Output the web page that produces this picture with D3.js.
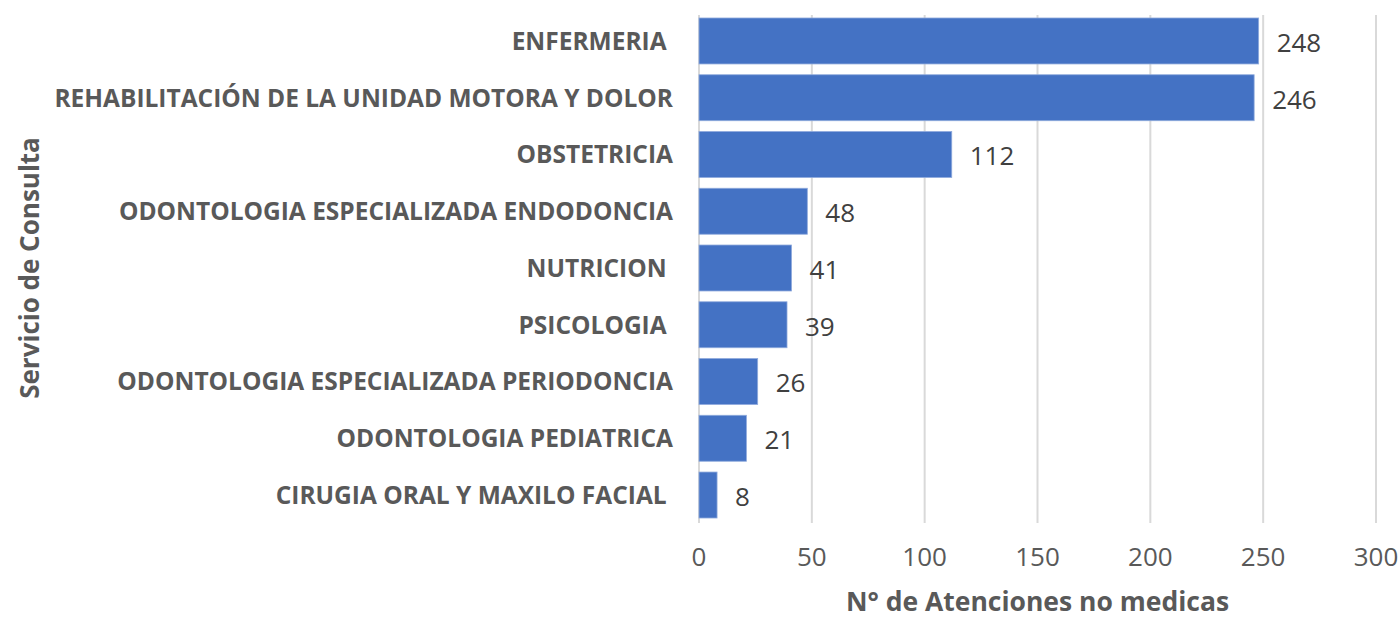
<!DOCTYPE html>
<html>
<head>
<meta charset="utf-8">
<script src="https://cdn.jsdelivr.net/npm/d3@7"></script>
<style>
  body { margin: 0; background: #fff; }
  svg text { font-family: "Open Sans", Lato, sans-serif; white-space: pre; }
</style>
</head>
<body>
<div id="chart"></div>
<script>
const categories = [
  "ENFERMERIA ",
  "REHABILITACIÓN DE LA UNIDAD MOTORA Y DOLOR",
  "OBSTETRICIA",
  "ODONTOLOGIA ESPECIALIZADA ENDODONCIA",
  "NUTRICION ",
  "PSICOLOGIA ",
  "ODONTOLOGIA ESPECIALIZADA PERIODONCIA",
  "ODONTOLOGIA PEDIATRICA",
  "CIRUGIA ORAL Y MAXILO FACIAL "
];
const values = [248, 246, 112, 48, 41, 39, 26, 21, 8];
const xTicks = [0, 50, 100, 150, 200, 250, 300];

const width = 1400;
const height = 618;
const margin = { top: 12.6, right: 24, bottom: 94.6, left: 699 };

const svg = d3.select("#chart")
  .append("svg")
  .attr("width", width)
  .attr("height", height);

const x = d3.scaleLinear()
  .domain([0, 300])
  .range([margin.left, width - margin.right]);

const y = d3.scaleBand()
  .domain(categories)
  .range([margin.top, height - margin.bottom])
  .paddingInner(0.19)
  .paddingOuter(0.095);

// gridlines
svg.append("g")
  .selectAll("line")
  .data(xTicks)
  .join("line")
  .attr("x1", d => x(d))
  .attr("x2", d => x(d))
  .attr("y1", 15)
  .attr("y2", 523)
  .attr("stroke", "#d9d9d9")
  .attr("stroke-width", 2);

// bars
svg.append("g")
  .selectAll("rect")
  .data(values)
  .join("rect")
  .attr("x", x(0))
  .attr("y", (d, i) => y(categories[i]))
  .attr("width", d => x(d) - x(0))
  .attr("height", y.bandwidth())
  .attr("fill", "#4472c4")
  .attr("stroke", "#8faadc")
  .attr("stroke-width", 0.8);

// value labels
svg.append("g")
  .selectAll("text")
  .data(values)
  .join("text")
  .attr("x", d => x(d) + 18)
  .attr("y", (d, i) => y(categories[i]) + y.bandwidth() / 2 + 1.5)
  .attr("dy", "0.36em")
  .attr("fill", "#404040")
  .style("font-size", "26px")
  .text(d => d);

// category labels
svg.append("g")
  .selectAll("text")
  .data(categories)
  .join("text")
  .attr("x", 673)
  .attr("y", d => y(d) + y.bandwidth() / 2)
  .attr("dy", "0.36em")
  .attr("text-anchor", "end")
  .attr("fill", "#595959")
  .style("font-size", "24.5px")
  .style("font-weight", "bold")
  .text(d => d);

// x tick labels
svg.append("g")
  .selectAll("text")
  .data(xTicks)
  .join("text")
  .attr("x", d => x(d))
  .attr("y", 557)
  .attr("dy", "0.36em")
  .attr("text-anchor", "middle")
  .attr("fill", "#595959")
  .style("font-size", "26px")
  .text(d => d);

// axis titles
svg.append("text")
  .attr("x", (x(0) + x(300)) / 2)
  .attr("y", 601)
  .attr("dy", "0.36em")
  .attr("text-anchor", "middle")
  .attr("fill", "#595959")
  .style("font-size", "26.5px")
  .style("font-weight", "bold")
  .text("N° de Atenciones no medicas");

svg.append("text")
  .attr("transform", `translate(30,${(margin.top + height - margin.bottom) / 2}) rotate(-90)`)
  .attr("dy", "0.36em")
  .attr("text-anchor", "middle")
  .attr("fill", "#595959")
  .style("font-size", "26px")
  .style("font-weight", "bold")
  .text("Servicio de Consulta");
</script>
</body>
</html>
